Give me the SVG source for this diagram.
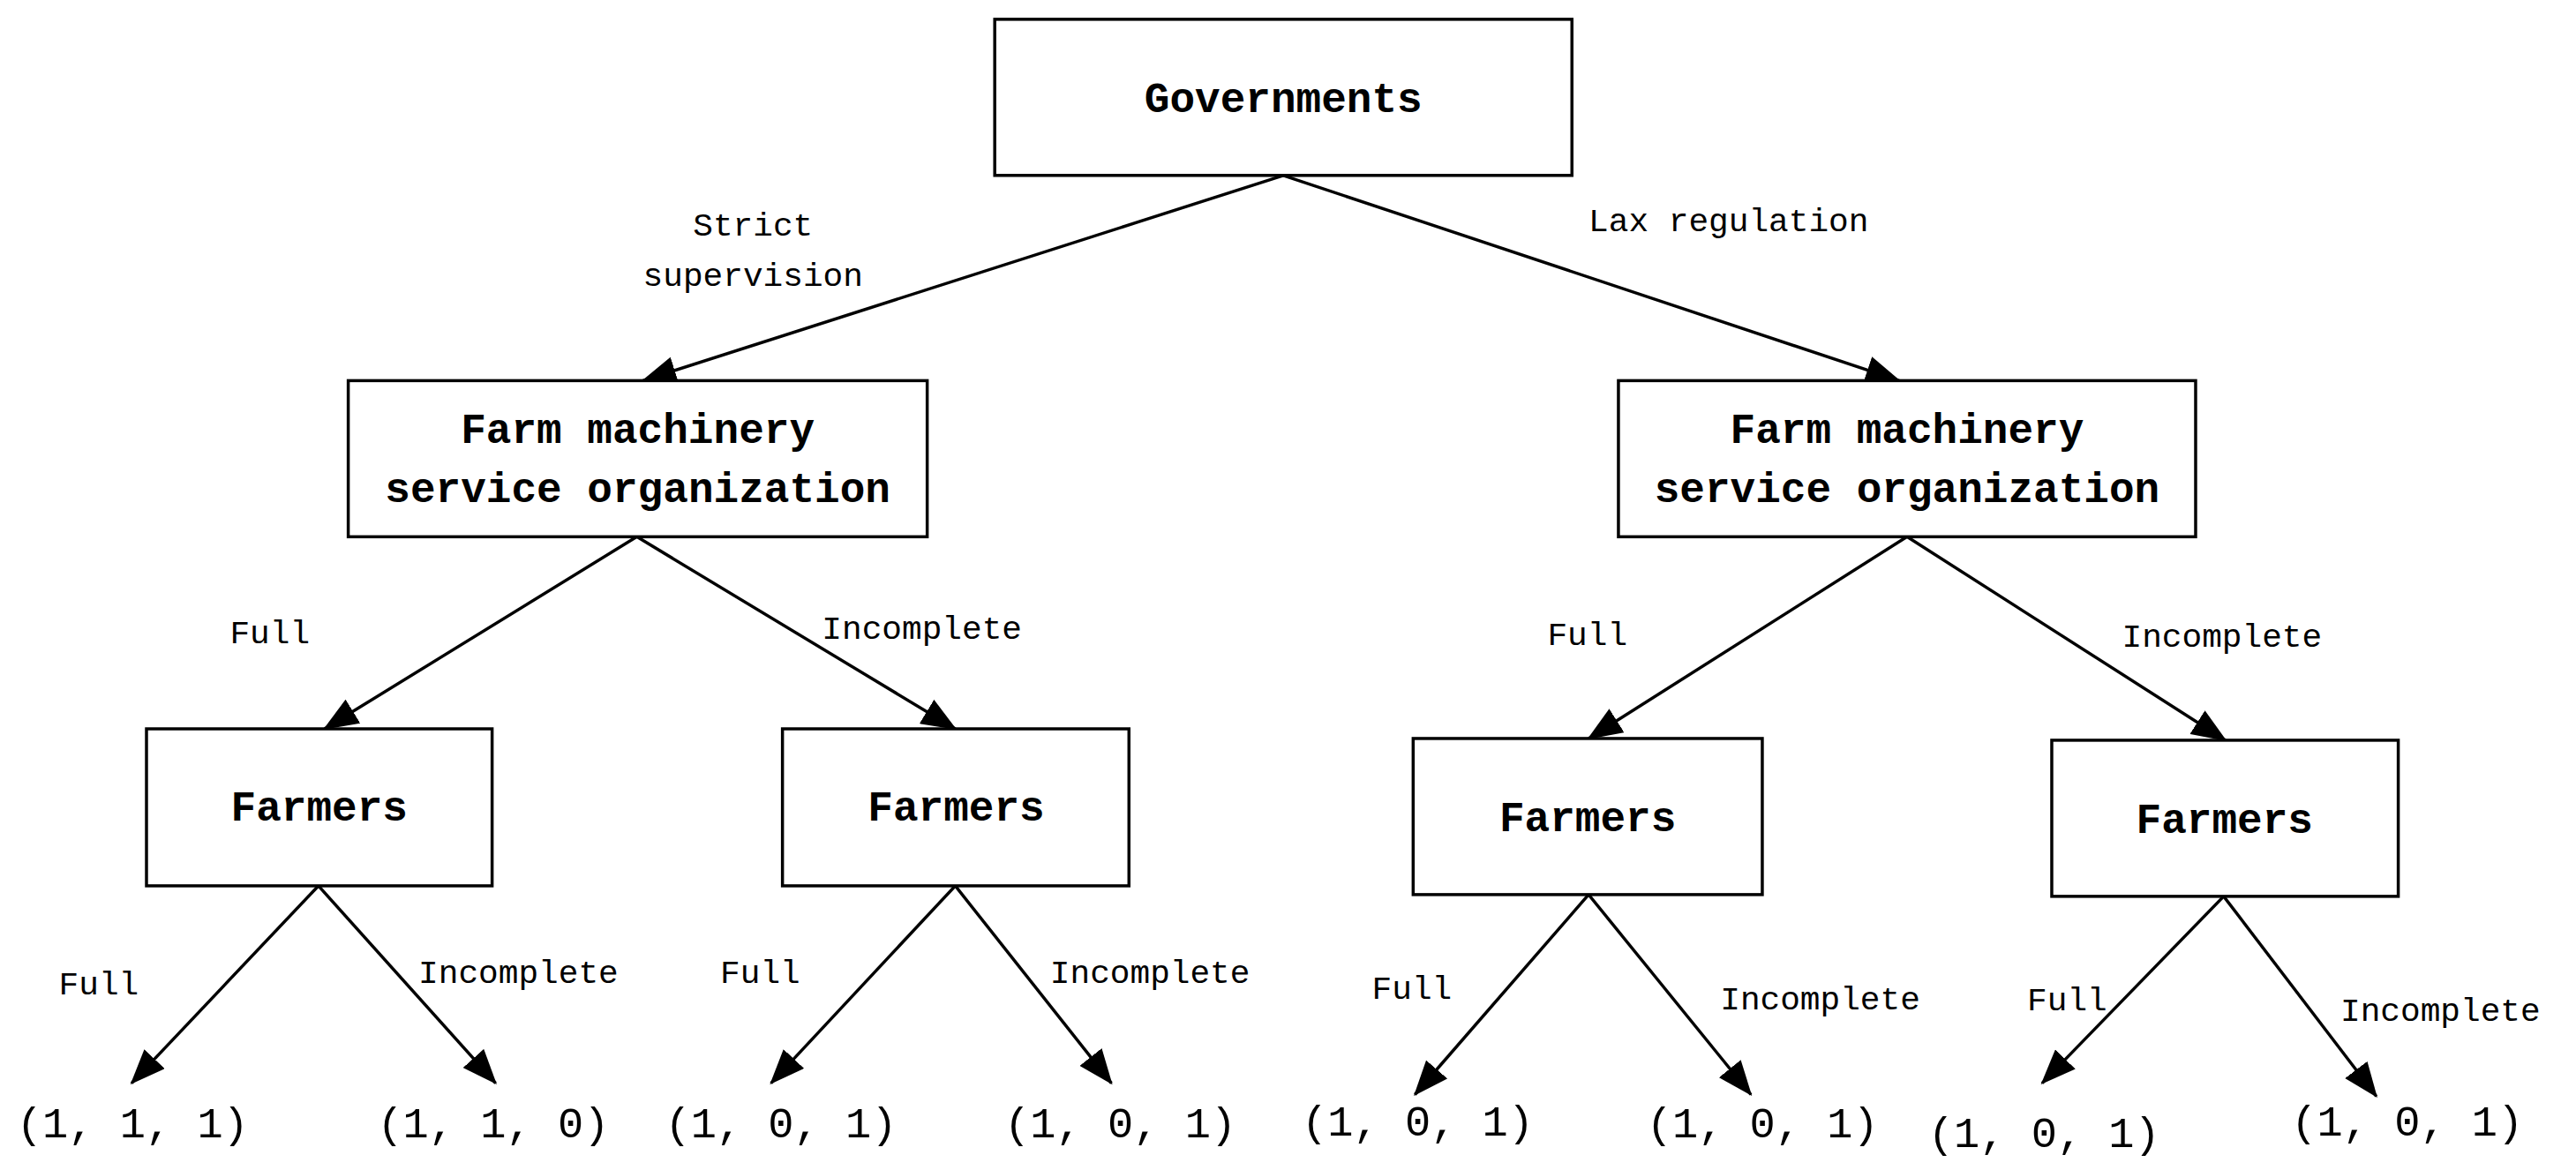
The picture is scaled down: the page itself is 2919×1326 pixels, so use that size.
<svg xmlns="http://www.w3.org/2000/svg" width="2919" height="1326" viewBox="0 0 2919 1326">
<style>
.box{fill:#fff;stroke:#000;stroke-width:3.5}
.t{font-family:"Liberation Mono",monospace;font-weight:bold;font-size:48px;text-anchor:middle;fill:#000}
.l{font-family:"Liberation Mono",monospace;font-size:38px;fill:#000}
.v{font-family:"Liberation Mono",monospace;font-size:49px;fill:#000}
.c line{stroke:#000;stroke-width:3.5;marker-end:url(#a)}
</style>
<defs><marker id="a" markerUnits="userSpaceOnUse" markerWidth="40" markerHeight="32" refX="38" refY="16" orient="auto" viewBox="0 0 40 32"><path d="M0,0L40,16L0,32z" fill="#000"/></marker></defs>
<rect width="2919" height="1326" fill="#fff"/>
<g transform="scale(0.994)">
<g class="c">
<line x1="1463" y1="200" x2="733" y2="434"/>
<line x1="1463" y1="200" x2="2165" y2="434"/>
<line x1="726" y1="612" x2="370" y2="831"/>
<line x1="726" y1="612" x2="1089" y2="831"/>
<line x1="2174" y1="612" x2="1811" y2="842"/>
<line x1="2174" y1="612" x2="2537" y2="844"/>
<line x1="363" y1="1010" x2="150" y2="1235"/>
<line x1="363" y1="1010" x2="565" y2="1235"/>
<line x1="1089" y1="1010" x2="879" y2="1235"/>
<line x1="1089" y1="1010" x2="1267" y2="1235"/>
<line x1="1811" y1="1020" x2="1613" y2="1248"/>
<line x1="1811" y1="1020" x2="1996" y2="1248"/>
<line x1="2535" y1="1022" x2="2328" y2="1235"/>
<line x1="2535" y1="1022" x2="2709" y2="1250"/>
</g>
<g id="gov"><rect class="box" x="1134" y="22" width="658" height="178"/><text class="t" x="1463" y="128">Governments</text></g>
<g id="fmsL"><rect class="box" x="397" y="434" width="660" height="178"/><text class="t" x="727" y="505">Farm machinery</text><text class="t" x="727" y="572">service organization</text></g>
<g id="fmsR"><rect class="box" x="1845" y="434" width="658" height="178"/><text class="t" x="2174" y="505">Farm machinery</text><text class="t" x="2174" y="572">service organization</text></g>
<g id="f1"><rect class="box" x="167" y="831" width="394" height="179"/><text class="t" x="364" y="936">Farmers</text></g>
<g id="f2"><rect class="box" x="892" y="831" width="395" height="179"/><text class="t" x="1090" y="936">Farmers</text></g>
<g id="f3"><rect class="box" x="1611" y="842" width="398" height="178"/><text class="t" x="1810" y="948">Farmers</text></g>
<g id="f4"><rect class="box" x="2339" y="844" width="395" height="178"/><text class="t" x="2536" y="950">Farmers</text></g>
<g id="labels">
<text class="l" x="790" y="269">Strict</text>
<text class="l" x="733" y="326">supervision</text>
<text class="l" x="1811" y="264">Lax regulation</text>
<text class="l" x="262" y="733">Full</text>
<text class="l" x="937" y="728">Incomplete</text>
<text class="l" x="1764" y="735">Full</text>
<text class="l" x="2419" y="737">Incomplete</text>
<text class="l" x="67" y="1134">Full</text>
<text class="l" x="477" y="1121">Incomplete</text>
<text class="l" x="821" y="1121">Full</text>
<text class="l" x="1197" y="1121">Incomplete</text>
<text class="l" x="1564" y="1139">Full</text>
<text class="l" x="1961" y="1151">Incomplete</text>
<text class="l" x="2311" y="1152">Full</text>
<text class="l" x="2668" y="1164">Incomplete</text>
</g>
<g id="payoffs">
<text class="v" x="19" y="1297">(1, 1, 1)</text>
<text class="v" x="430" y="1297">(1, 1, 0)</text>
<text class="v" x="758" y="1297">(1, 0, 1)</text>
<text class="v" x="1145" y="1297">(1, 0, 1)</text>
<text class="v" x="1484" y="1295">(1, 0, 1)</text>
<text class="v" x="1877" y="1297">(1, 0, 1)</text>
<text class="v" x="2198" y="1308">(1, 0, 1)</text>
<text class="v" x="2612" y="1295">(1, 0, 1)</text>
</g>
</g>
</svg>
